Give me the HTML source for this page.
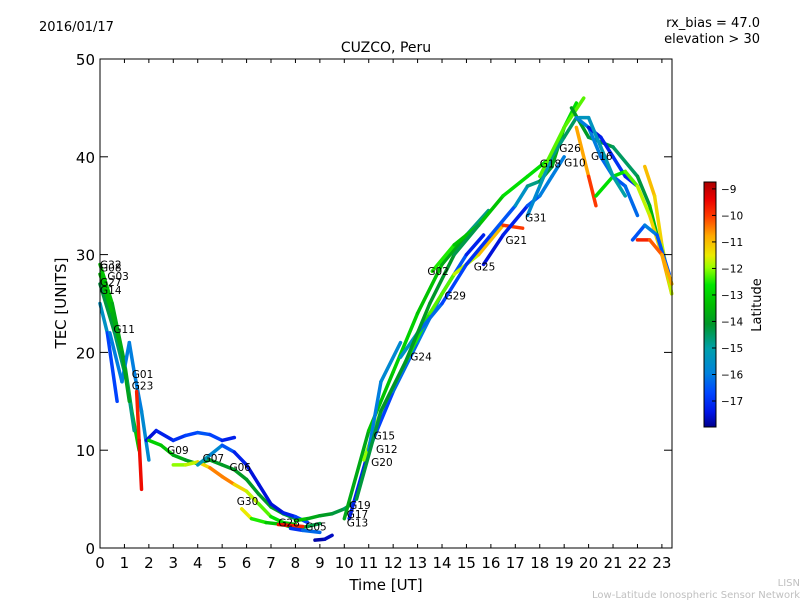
<!DOCTYPE html>
<html><head><meta charset="utf-8"><style>
body{margin:0;background:#fff;}
svg text{font-family:"DejaVu Sans","Liberation Sans",sans-serif;}
</style></head><body>
<svg id="chart" width="800" height="600" xmlns="http://www.w3.org/2000/svg">
<defs>
<linearGradient id="cmap" x1="0" y1="1" x2="0" y2="0"></linearGradient>
</defs>
<text x="39" y="31" font-size="13">2016/01/17</text>
<text x="760" y="27" font-size="13" text-anchor="end">rx_bias = 47.0</text>
<text x="760" y="43" font-size="13" text-anchor="end">elevation &gt; 30</text>
<text x="386" y="52" font-size="14" text-anchor="middle">CUZCO, Peru</text>
<text x="386" y="590" font-size="15" text-anchor="middle">Time [UT]</text>
<text transform="translate(66,303) rotate(-90)" font-size="15" text-anchor="middle">TEC [UNITS]</text>
<g id="marks"></g>
<g id="labels"></g>
<rect x="100" y="59" width="572" height="489" fill="none" stroke="#000" stroke-width="1"/>
<g id="axes"></g>
<rect x="704" y="182" width="12" height="245" fill="url(#cmap)" stroke="#000" stroke-width="1"/>
<g id="cbticks"></g>
<text transform="translate(761,305) rotate(-90)" font-size="13" text-anchor="middle">Latitude</text>
<text x="800" y="586" font-size="10" fill="#c0c0c0" text-anchor="end">LISN</text>
<text x="800" y="598" font-size="10" fill="#c0c0c0" text-anchor="end">Low-Latitude Ionospheric Sensor Network</text>
</svg>
<script>
const xTicks=[0,1,2,3,4,5,6,7,8,9,10,11,12,13,14,15,16,17,18,19,20,21,22,23];
const yTicks=[0,10,20,30,40,50];
const cbTicks=[-9,-10,-11,-12,-13,-14,-15,-16,-17];
const trackNames=["A","B","C","G11","G23","N1","G09","G07","G06","G30","G28","G05","B2","G19","R1","R2","R3","R4","G24","G02","G25","G31","PK","D1","D2","D3","D4","D5","D6","D7","D8","A2","R5","D9"];
const trackTimes=[
[0,0.5,1,1.3,1.6],[0,0.6,1.1,1.4],[0,0.3,0.7],[0.4,0.9,1.2,1.4,1.7,2.0],[1.5,1.6,1.7],
[1.9,2.3,3,3.5,4,4.5,5,5.5],[2.0,2.5,3,3.5,4,4.5,5,5.5,6,6.5,7,7.5,8],[3,3.5,4,4.5,5,5.5,6,6.5,7,7.5,8],[4,4.5,5,5.5,6,6.5,7,7.5,8,8.5],
[5.8,6.2,6.8,7.5,8,8.5,9],[7.3,7.8,8.3],[7.8,8.3,9],[8.8,9.2,9.5],[8,8.5,9,9.5,10,10.3],
[10,11,12,13,14,15,15.9],[10.2,11,12,13,14,15,15.7],[10.8,11.5,12.5,13.5,14.5,15.5,16.5,17.3],[11,11.5,12.3],
[12.3,13,14,15,16,17,17.5,18,18.5,19],[13.6,14.5,15.5,16.5,17.5,18.5,19,19.5],[15.7,16.5,17.5,18,18.5,19],[17.5,18,18.5,19,19.5],[18,19,19.8],
[19.3,20,21,22,22.5,23,23.4],[19.5,20,20.5,21,21.5,22],[20,20.5,21,21.5,22],[19.5,20,20.3],[20.3,21,21.5,22,22.5,23,23.4],[22.3,22.7,23,23.4],[21.8,22.3,22.8,23.3],[22,22.5,23,23.4],
[0,0.5,0.9,1.2],[10.5,11.5,12.5,13.5,14.5,15.5],[19.6,20,20.5,21,21.5]];
const trackTec=[
[29,25,19,14,10],[27,22,17,12],[25,22,15],[22,17,21,18,14,9],[16,11,6],
[11,12,11,11.5,11.8,11.6,11,11.3],[11,10.5,9.5,9,8.6,9,8.5,8,7,5.5,4.2,3.5,3],[8.5,8.5,8.8,8.2,7.3,6.5,5.8,4.5,3.2,2.6,2.4],[8.5,9.5,10.5,9.8,8.5,6.5,4.5,3.6,3.2,2.6],
[4,3,2.6,2.4,2,2.2,2.5],[2.4,2.3,2.2],[2,1.8,1.6],[0.8,0.9,1.3],[2.8,3,3.3,3.5,4,4.5],
[3,12,18,24,29,32,34.5],[3,10,16,21,26,30,32],[9,14,19,24,28,30,33,32.7],[10,17,21],
[19.5,22,25,29,32,35,37,37.5,39,43],[28.3,31,33,36,38,40,43,45.5],[29,32,35,36,38,40],[34,37,40,42,44],[38,43,46],
[45,42,41,38,35,30,27],[44,43,40,38,37,34],[43,42,40,38,37],[43,38,35],[36,38,38.5,37,34,30,26],[39,36,31,26],[31.5,33,32,28],[31.5,31.5,30,27],
[28,24,20,15],[5,14,19,25,30,33],[44,44,41,38,36]];
const trackLat=[
[-13,-13.5,-14,-13.5,-13],[-14,-14.5,-14.5,-15],[-15,-16,-17.5],[-16,-16,-16,-16,-16,-15.5],[-10,-9.5,-9.5],
[-17.5,-17.5,-17,-17,-16.5,-16.5,-17,-17.5],[-13,-13,-13.5,-14,-14,-14,-14,-14,-14,-14,-14,-14,-14.5],[-12,-12,-11.5,-11,-10,-11,-11.5,-12,-12.5,-13,-13.5],[-15,-15.5,-16,-17,-17.5,-17.5,-17.5,-17.5,-17,-16.5],
[-11,-12,-13,-13.5,-14,-14,-14.5],[-9.5,-9.5,-10],[-17.5,-16.5,-16],[-17.8,-17.8,-17.5],[-13,-13.5,-14,-14,-14.5,-14.5],
[-14,-13.5,-13,-13,-13.5,-14,-15.5],[-17.5,-17,-16.5,-16,-16,-17,-17.5],[-12,-12,-12.5,-12.5,-12,-11.5,-10.5,-9.5],[-16,-16,-15.5],
[-15,-16,-16.5,-17,-17,-16,-15,-14.5,-14,-13.5],[-12,-13,-13.5,-13,-12.5,-13,-13,-12.5],[-17.5,-17.5,-17,-16,-16,-16],[-16,-15.5,-15,-14.5,-14.5],[-12.5,-12,-12.5],
[-14,-14,-14.5,-14.5,-14,-13,-13],[-16,-16,-16,-16.5,-16.5,-16],[-17.5,-17.5,-17,-17,-17.5],[-11,-10.5,-9.5],[-12.5,-13,-12.5,-12,-11.5,-11,-10.5],[-11,-11,-11.5,-12],[-17,-16,-16,-17],[-9.5,-10,-10.5,-11],
[-13.3,-13.5,-13.8,-14],[-14.3,-14.2,-14,-14,-14.2,-14.5],[-15.3,-15.5,-15.3,-15,-15]];
const satLabels=["G32","G08","G03","G27","G14","G11","G01","G23","G09","G07","G06","G30","G28","G05","G19","G17","G13","G15","G12","G20","G24","G02","G29","G25","G21","G31","G18","G10","G26","G16"];
const labelTime=[0,0,0.3,0,0,0.55,1.3,1.3,2.75,4.2,5.3,5.6,7.3,8.4,10.2,10.1,10.1,11.2,11.3,11.1,12.7,13.4,14.1,15.3,16.6,17.4,18.0,19.0,18.8,20.1];
const labelTec=[29,28.7,27.8,27.2,26.4,22.4,17.8,16.6,10.0,9.2,8.3,4.8,2.6,2.2,4.4,3.5,2.6,11.5,10.1,8.8,19.6,28.3,25.8,28.8,31.5,33.8,39.3,39.4,40.9,40.1];
const NS="http://www.w3.org/2000/svg";
const X0=100,X1=672,Y0=548,Y1=59,pxPerHour=24.43;
const xs=t=>X0+t*pxPerHour;
const ys=v=>Y0-(v/50)*(Y0-Y1);
const latMin=-17.98,latMax=-8.74;
const cbY=l=>427-(l-latMin)/(latMax-latMin)*245;
const cmStops=[[0,[0,0,140]],[0.06,[0,20,230]],[0.14,[0,70,255]],[0.22,[0,130,220]],[0.32,[0,160,170]],[0.42,[0,150,40]],[0.5,[0,190,0]],[0.58,[0,230,0]],[0.65,[150,255,0]],[0.7,[235,235,0]],[0.78,[255,170,0]],[0.86,[255,60,0]],[0.93,[235,0,0]],[1,[170,0,0]]];
function cmap(l){let v=(l-latMin)/(latMax-latMin);v=Math.max(0,Math.min(1,v));
 for(let i=0;i<cmStops.length-1;i++){const a=cmStops[i],b=cmStops[i+1];
  if(v<=b[0]){const f=(v-a[0])/(b[0]-a[0]);const c=a[1].map((x,j)=>Math.round(x+(b[1][j]-x)*f));return `rgb(${c[0]},${c[1]},${c[2]})`;}}
 return 'rgb(170,0,0)';}
const grad=document.getElementById('cmap');
cmStops.forEach(s=>{const st=document.createElementNS(NS,'stop');st.setAttribute('offset',s[0]);st.setAttribute('stop-color',`rgb(${s[1].join(',')})`);grad.appendChild(st);});
const marks=document.getElementById('marks');
for(let k=0;k<trackTimes.length;k++){
 const T=trackTimes[k],V=trackTec[k],L=trackLat[k];
 const g=document.createElementNS(NS,'g');
 
 
 for(let i=0;i<T.length-1;i++){
  const ln=document.createElementNS(NS,'line');
  
  
  ln.setAttribute('x1',xs(T[i]));ln.setAttribute('y1',ys(V[i]));
  ln.setAttribute('x2',xs(T[i+1]));ln.setAttribute('y2',ys(V[i+1]));
  ln.setAttribute('stroke',cmap((L[i]+L[i+1])/2));ln.setAttribute('stroke-width','3.5');ln.setAttribute('stroke-linecap','round');
  g.appendChild(ln);}
 marks.appendChild(g);}
const lab=document.getElementById('labels');
for(let i=0;i<satLabels.length;i++){
 const t=document.createElementNS(NS,'text');
 
 
 t.setAttribute('x',xs(labelTime[i]));t.setAttribute('y',ys(labelTec[i])+4);
 t.setAttribute('font-size','10.5');t.textContent=satLabels[i];lab.appendChild(t);}
const ax=document.getElementById('axes');
function mk(tag,attrs,name){const e=document.createElementNS(NS,tag);for(const a in attrs)e.setAttribute(a,attrs[a]);
 
 
 ax.appendChild(e);return e;}
xTicks.forEach(t=>{const x=xs(t);
 mk('line',{x1:x,y1:Y0,x2:x,y2:Y0-4,stroke:'#000'},'x-tick');
 mk('line',{x1:x,y1:Y1,x2:x,y2:Y1+4,stroke:'#000'},'x-tick-top');
 const e=mk('text',{x:x,y:568,'font-size':15,'text-anchor':'middle'},'x-tick-label');e.textContent=t;});
yTicks.forEach(v=>{const y=ys(v);
 mk('line',{x1:X0,y1:y,x2:X0+8,y2:y,stroke:'#000'},'y-tick');
 mk('line',{x1:X1,y1:y,x2:X1-8,y2:y,stroke:'#000'},'y-tick-right');
 const e=mk('text',{x:95,y:y+6,'font-size':15,'text-anchor':'end'},'y-tick-label');e.textContent=v;});
const cb=document.getElementById('cbticks');
cbTicks.forEach(l=>{const y=cbY(l);
 const ln=document.createElementNS(NS,'line');
 
 
 ln.setAttribute('x1',712);ln.setAttribute('x2',716);ln.setAttribute('y1',y);ln.setAttribute('y2',y);ln.setAttribute('stroke','#000');cb.appendChild(ln);
 const t=document.createElementNS(NS,'text');
 
 
 t.setAttribute('x',721);t.setAttribute('y',y+4);t.setAttribute('font-size','10.5');t.textContent='\u2212'+(-l);cb.appendChild(t);});
</script>
</body></html>
